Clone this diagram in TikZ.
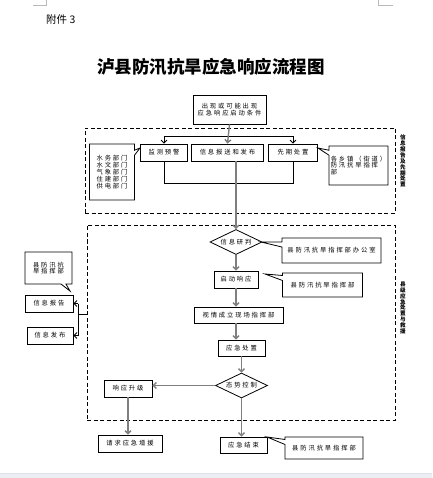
\documentclass[tikz,border=0pt]{standalone}
\usepackage{fontspec}
\setmainfont{Noto Sans CJK SC}
\newfontfamily\cjksp[LetterSpace=30]{Noto Sans CJK SC}
\usetikzlibrary{shapes.geometric,shapes.callouts,arrows.meta}
\definecolor{flowgray}{HTML}{7F7F7F}
\definecolor{bandgray}{HTML}{ECEEF3}
\definecolor{bandline}{HTML}{DDE0E6}
\begin{document}
\begin{tikzpicture}[x=1pt,y=-1pt,
  box/.style={draw, line width=0.8pt, inner sep=0.5pt, font=\cjksp\fontsize{6.3}{6.8}\selectfont, align=center},
  call/.style={rectangle callout, draw, line width=0.8pt, fill=white, inner sep=1pt, callout pointer width=5pt, font=\cjksp\fontsize{6.3}{6.8}\selectfont, align=left},
  dia/.style={diamond, draw, line width=0.8pt, inner sep=0pt, aspect=2.1, minimum width=52pt, minimum height=25pt, font=\cjksp\fontsize{6.3}{6.8}\selectfont},
  dframe/.style={draw, line width=0.9pt, dash pattern=on 4pt off 2.5pt, inner sep=0pt},
  vtext/.style={inner sep=0pt, align=center, font=\bfseries\fontsize{5.6}{5.9}\selectfont},
  flow/.style={draw=flowgray, line width=1.4pt, -{Straight Barb[length=3pt,width=6pt]}},
  thinarrow/.style={draw=black, line width=0.8pt, -{Straight Barb[length=3pt,width=6pt]}},
  thinline/.style={draw=black, line width=0.8pt}
]
\useasboundingbox (0,0) rectangle (432,478);
% page decorations
\fill[bandgray] (0,473) rectangle (432,478);
\draw[bandline] (0,473) -- (432,473);
\draw[gray!55, line width=0.6pt] (33,5) -- (46,5) -- (46,0);
\draw[gray!55, line width=0.6pt] (378,0) -- (378,5) -- (393,5);
\node[anchor=west, inner sep=0pt] (att) at (46,20) {\fontsize{10.5}{12}\selectfont 附件 3};
\node[inner sep=0pt] (title) at (211,67) {\fontsize{17.5}{20}\selectfont\bfseries 泸县防汛抗旱应急响应流程图};

% frames
\node[dframe, minimum width=310pt, minimum height=85pt] (f1) at (240,170.5) {};
\node[dframe, minimum width=308pt, minimum height=195pt] (f2) at (241,322.5) {};
\node[vtext] (v1) at (403,161) {信\\息\\报\\告\\及\\先\\期\\处\\置};
\node[vtext] (v2) at (403,308) {县\\级\\应\\急\\处\\置\\与\\救\\援};

% upper part
\node[box, minimum width=73pt, minimum height=29pt] (top) at (229.5,109.5) {出现或可能出现\\应急响应启动条件};
\node[box, minimum width=47pt, minimum height=17pt] (b1) at (164,152.5) {监测预警};
\node[box, minimum width=72pt, minimum height=17pt] (b2) at (227.5,152.5) {信息报送和发布};
\node[box, minimum width=49pt, minimum height=17pt] (b3) at (293,152.5) {先期处置};
\coordinate (br) at (229.5,136);
\coordinate (jn) at (229.5,183);
\draw[thinarrow] (b1.north |- br) -- (b1.north);
\draw[thinline] (b1.north |- br) -- (b3.north |- br);
\draw[thinarrow] (b3.north |- br) -- (b3.north);
\draw[flow] (top.south) -- (b2.north);
\draw[thinline] (b1.south) -- (b1.south |- jn) -- (b3.south |- jn) -- (b3.south);

\node[call, callout absolute pointer={(140,148)}, minimum width=45pt, minimum height=56pt, align=center] (c1) at (112,172) {水务部门\\水文部门\\气象部门\\住建部门\\供电部门};
\node[call, callout absolute pointer={(318,148)}, minimum width=59pt, minimum height=39pt] (c2) at (358.5,165.5) {各乡镇（街道）\\防汛抗旱指挥\\部};

% lower part
\node[dia] (d1) at (236,242) {信息研判};
\draw[flow] (b2.south -| d1.north) -- (d1.north);
\node[call, callout absolute pointer={(261,242)}, minimum width=99pt, minimum height=25pt] (c3) at (331.5,250.5) {县防汛抗旱指挥部办公室};
\node[box, minimum width=44pt, minimum height=17pt] (n1) at (236,279.5) {启动响应};
\draw[flow] (d1.south) -- (n1.north);
\node[call, callout absolute pointer={(265,274)}, minimum width=80pt, minimum height=24pt] (c4) at (322.5,285) {县防汛抗旱指挥部};
\node[box, minimum width=89pt, minimum height=16pt] (n2) at (238.5,315) {视情成立现场指挥部};
\draw[flow] (n1.south) -- (n1.south |- n2.north);
\node[box, minimum width=47pt, minimum height=16pt] (n3) at (241.5,348) {应急处置};
\draw[flow] (n2.south -| n1.south) -- (n1.south |- n3.north);
\node[dia] (d2) at (241.5,385.5) {态势控制};
\draw[flow] (n3.south) -- (d2.north);
\node[box, minimum width=48pt, minimum height=17pt] (n4) at (128,388.5) {响应升级};
\draw[flow] (d2.west) -- (d2.west -| n4.east);
\node[box, minimum width=64pt, minimum height=17pt] (n5) at (130,443.5) {请求应急增援};
\draw[flow] (n4.south) -- (n4.south |- n5.north);
\node[box, minimum width=47pt, minimum height=16pt] (n6) at (243.5,445) {应急结束};
\draw[flow] (d2.south) -- (d2.south |- n6.north);
\node[call, callout absolute pointer={(267,437)}, minimum width=78pt, minimum height=22pt] (c5) at (324,448) {县防汛抗旱指挥部};

% left side
\node[box, minimum width=48pt, minimum height=17pt] (n7) at (49,303.5) {信息报告};
\node[box, minimum width=46pt, minimum height=17pt] (n8) at (50,335.5) {信息发布};
\node[call, callout absolute pointer={(70,291)}, minimum width=47pt, minimum height=32pt] (c6) at (48.5,268) {县防汛抗\\旱指挥部};
\coordinate (lj) at (78,314);
\draw[thinline] (f2.west |- lj) -- (lj);
\draw[thinline] (lj |- n7.east) -- (lj |- n8.east);
\draw[thinarrow] (lj |- n7.east) -- (n7.east);
\draw[thinarrow] (lj |- n8.east) -- (n8.east);
\end{tikzpicture}
\end{document}
